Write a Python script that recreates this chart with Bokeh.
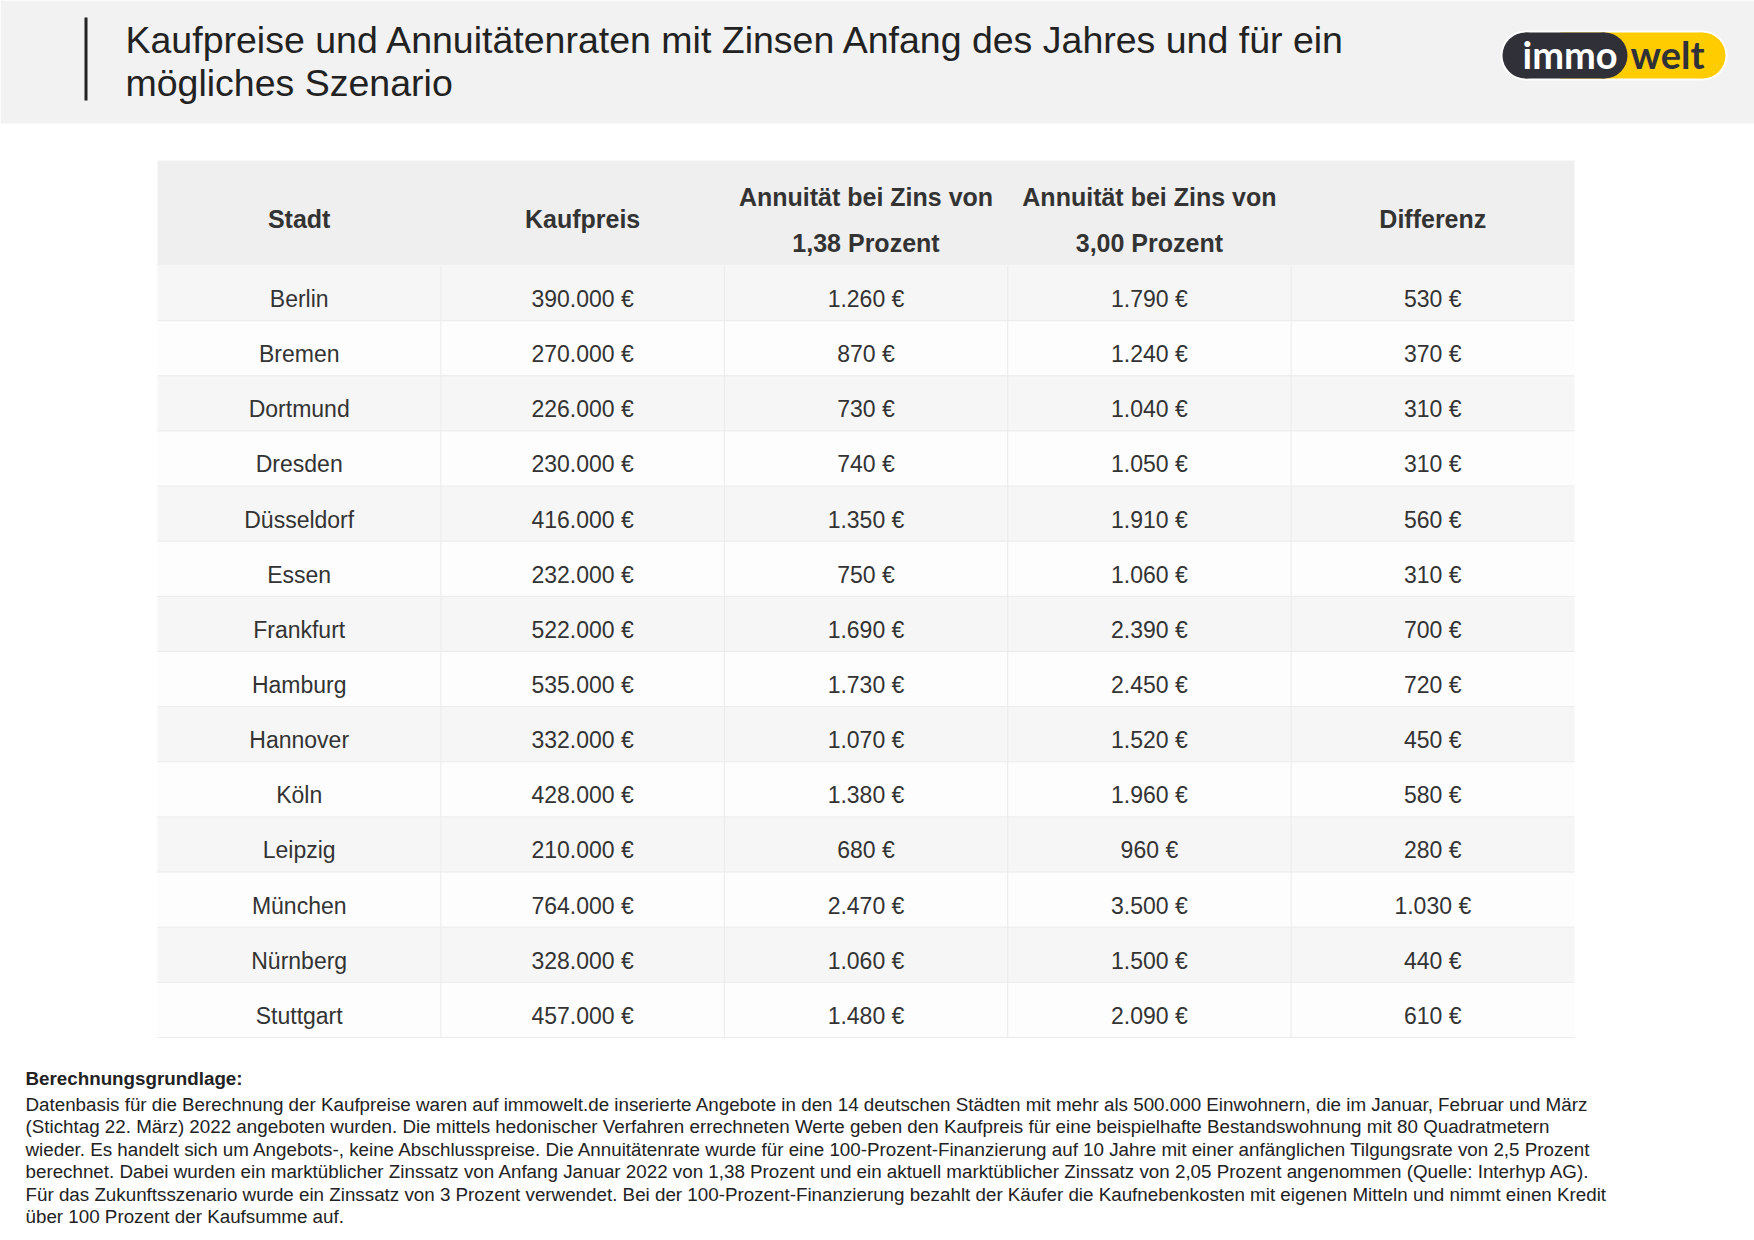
from bokeh.plotting import figure
from bokeh.models import Range1d, ColumnDataSource
from bokeh.embed import file_html
from bokeh.resources import INLINE
from bokeh.core.properties import value

# ---------------- data ----------------
title_lines = ["Kaufpreise und Annuitätenraten mit Zinsen Anfang des Jahres und für ein",
               "mögliches Szenario"]
header_lines = [["Stadt"], ["Kaufpreis"], ["Annuität bei Zins von", "1,38 Prozent"],
                ["Annuität bei Zins von", "3,00 Prozent"], ["Differenz"]]
stadt = ["Berlin", "Bremen", "Dortmund", "Dresden", "Düsseldorf", "Essen", "Frankfurt",
         "Hamburg", "Hannover", "Köln", "Leipzig", "München", "Nürnberg", "Stuttgart"]
kaufpreis = [390000, 270000, 226000, 230000, 416000, 232000, 522000, 535000, 332000,
             428000, 210000, 764000, 328000, 457000]
annuitaet_138 = [1260, 870, 730, 740, 1350, 750, 1690, 1730, 1070, 1380, 680, 2470, 1060, 1480]
annuitaet_300 = [1790, 1240, 1040, 1050, 1910, 1060, 2390, 2450, 1520, 1960, 960, 3500, 1500, 2090]
differenz = [530, 370, 310, 310, 560, 310, 700, 720, 450, 580, 280, 1030, 440, 610]
footer_title = "Berechnungsgrundlage:"
footer_lines = [
    "Datenbasis für die Berechnung der Kaufpreise waren auf immowelt.de inserierte Angebote in den 14 deutschen Städten mit mehr als 500.000 Einwohnern, die im Januar, Februar und März",
    "(Stichtag 22. März) 2022 angeboten wurden. Die mittels hedonischer Verfahren errechneten Werte geben den Kaufpreis für eine beispielhafte Bestandswohnung mit 80 Quadratmetern",
    "wieder. Es handelt sich um Angebots-, keine Abschlusspreise. Die Annuitätenrate wurde für eine 100-Prozent-Finanzierung auf 10 Jahre mit einer anfänglichen Tilgungsrate von 2,5 Prozent",
    "berechnet. Dabei wurden ein marktüblicher Zinssatz von Anfang Januar 2022 von 1,38 Prozent und ein aktuell marktüblicher Zinssatz von 2,05 Prozent angenommen (Quelle: Interhyp AG).",
    "Für das Zukunftsszenario wurde ein Zinssatz von 3 Prozent verwendet. Bei der 100-Prozent-Finanzierung bezahlt der Käufer die Kaufnebenkosten mit eigenen Mitteln und nimmt einen Kredit",
    "über 100 Prozent der Kaufsumme auf.",
]


def eur(v):
    return f"{v:,}".replace(",", ".") + " €"


FONT = value("Liberation Sans")
TXT = "#333333"

W, H = 1754, 1240
p = figure(width=W, height=H, x_range=Range1d(0, W), y_range=Range1d(H, 0),
           output_backend="svg", toolbar_location=None, x_axis_type=None, y_axis_type=None,
           min_border=0, outline_line_color=None, background_fill_color="white",
           border_fill_color="white")
p.xgrid.visible = False
p.ygrid.visible = False

# ---------------- page header ----------------
p.quad(left=[0], right=[W], top=[0], bottom=[123], fill_color="#f2f2f2", line_color=None)
p.quad(left=[84], right=[87], top=[17], bottom=[100], fill_color="#222222", line_color=None)
p.text(x=[125, 125], y=[39.5, 82], text=title_lines, text_font=FONT, text_font_size="37.5px",
       text_color="#222222", text_baseline="middle", text_align="left")

# logo
cy, r = 55, 23
p.circle(x=[1525, 1702], y=[cy, cy], radius=r + 2, fill_color="white", line_color=None)
p.quad(left=[1525], right=[1702], top=[cy - r - 2], bottom=[cy + r + 2], fill_color="white", line_color=None)
p.circle(x=[1702], y=[cy], radius=r, fill_color="#ffcc00", line_color=None)
p.quad(left=[1560], right=[1702], top=[cy - r], bottom=[cy + r], fill_color="#ffcc00", line_color=None)
p.circle(x=[1525, 1604], y=[cy, cy], radius=r, fill_color="#2f3038", line_color=None)
p.quad(left=[1525], right=[1604], top=[cy - r], bottom=[cy + r], fill_color="#2f3038", line_color=None)
p.text(x=[1522], y=[53], text=["immo"], text_font=value("Lato"), text_font_style="bold",
       text_font_size="38px", text_color="white", text_baseline="middle")
p.text(x=[1630], y=[53], text=["welt"], text_font=value("Lato"), text_font_style="bold",
       text_font_size="38px", text_color="#2f3038", text_baseline="middle")

# ---------------- table ----------------
TX0, TX1 = 157, 1574
HY0, HY1 = 160, 265
n = len(stadt)
RH = (1037 - HY1) / n
CW = (TX1 - TX0) / 5
ncol = len(header_lines)

p.quad(left=[TX0], right=[TX1], top=[HY0], bottom=[HY1], fill_color="#efefef", line_color=None)

rows = ColumnDataSource(dict(
    top=[HY1 + i * RH for i in range(n)],
    bottom=[HY1 + (i + 1) * RH for i in range(n)],
    color=["#f6f6f6" if i % 2 == 0 else "#fdfdfd" for i in range(n)],
))
p.quad(left=TX0, right=TX1, top="top", bottom="bottom", fill_color="color", line_color=None, source=rows)

# horizontal separators
p.segment(x0=[TX0] * n, x1=[TX1] * n, y0=[HY1 + (i + 1) * RH for i in range(n)],
          y1=[HY1 + (i + 1) * RH for i in range(n)], line_color="#ebebeb", line_width=1)
# vertical separators
p.segment(x0=[TX0 + k * CW for k in range(1, ncol)], x1=[TX0 + k * CW for k in range(1, ncol)],
          y0=[HY1] * (ncol - 1), y1=[1037] * (ncol - 1), line_color="#ebebeb", line_width=1)

# header text
hx, hy, ht = [], [], []
for c, lines in enumerate(header_lines):
    cx = TX0 + (c + 0.5) * CW
    if len(lines) == 1:
        hx.append(cx); hy.append(218); ht.append(lines[0])
    else:
        for j, t in enumerate(lines):
            hx.append(cx); hy.append(196 + 46 * j); ht.append(t)
p.text(x=hx, y=hy, text=ht, text_font=FONT, text_font_style="bold", text_font_size="25px",
       text_color=TXT, text_align="center", text_baseline="middle")

# body text
columns = [stadt, [eur(v) for v in kaufpreis], [eur(v) for v in annuitaet_138],
           [eur(v) for v in annuitaet_300], [eur(v) for v in differenz]]
bx, by, bt = [], [], []
for c, col in enumerate(columns):
    for i, t in enumerate(col):
        bx.append(TX0 + (c + 0.5) * CW)
        by.append(HY1 + i * RH + 33.5)
        bt.append(t)
p.text(x=bx, y=by, text=bt, text_font=FONT, text_font_size="23px", text_color=TXT,
       text_align="center", text_baseline="middle")

# ---------------- footer ----------------
p.text(x=[25], y=[1078], text=[footer_title], text_font=FONT, text_font_style="bold",
       text_font_size="18.8px", text_color="#222222", text_baseline="middle")
p.text(x=[25] * len(footer_lines), y=[1104 + 22.4 * k for k in range(len(footer_lines))],
       text=footer_lines, text_font=FONT, text_font_size="18.8px", text_color="#222222",
       text_baseline="middle")

open("out.html", "w").write(file_html(p, INLINE))
